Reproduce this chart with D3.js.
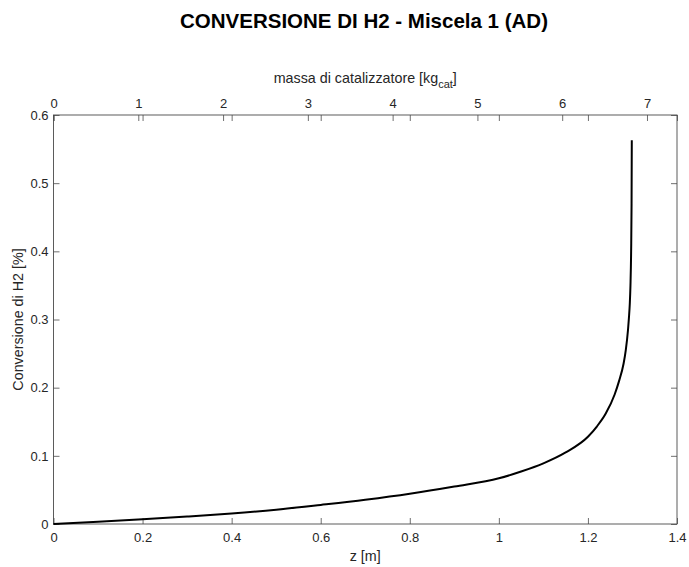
<!DOCTYPE html>
<html>
<head>
<meta charset="utf-8">
<script src="https://cdn.jsdelivr.net/npm/d3@7"></script>
<style>
  html, body { margin: 0; padding: 0; background: #fff; }
  text { font-family: "Liberation Sans", Arial, Helvetica, sans-serif; fill: #262626; }
</style>
</head>
<body>
<svg id="chart" width="689" height="567"></svg>
<script>
// Reactor length z [m] and H2 conversion along the bed
const zValues = [0, 0.1, 0.2, 0.3, 0.4, 0.5, 0.6, 0.7, 0.8, 0.9, 1.0, 1.05, 1.1, 1.15, 1.2,
                 1.22, 1.24, 1.26, 1.27, 1.28, 1.285, 1.29, 1.292, 1.294, 1.2955, 1.297, 1.298, 1.2985];
const conversion = [0, 0.0033, 0.0069, 0.011, 0.0155, 0.021, 0.028, 0.0355, 0.0443, 0.055, 0.067, 0.077, 0.089, 0.105, 0.128,
                    0.143, 0.162, 0.19, 0.21, 0.235, 0.255, 0.285, 0.302, 0.323, 0.35, 0.40, 0.47, 0.563];

// Axis limits and tick labels
const zDomain = [0, 1.4];
const zTicks = [0, 0.2, 0.4, 0.6, 0.8, 1, 1.2, 1.4];
const yDomain = [0, 0.6];
const yTicks = [0, 0.1, 0.2, 0.3, 0.4, 0.5, 0.6];
const massDomain = [0, 7.354];
const massTicks = [0, 1, 2, 3, 4, 5, 6, 7];

const title = "CONVERSIONE DI H2 - Miscela 1 (AD)";
const xLabel = "z [m]";
const yLabel = "Conversione di H2 [%]";

const plotLeft = 53.5, plotRight = 677, plotTop = 115, plotBottom = 524;
const tickLen = 6;
const axisColor = "#4a4a4a";

const svg = d3.select("#chart");

const x = d3.scaleLinear().domain(zDomain).range([plotLeft, plotRight]);
const xTop = d3.scaleLinear().domain(massDomain).range([plotLeft, plotRight]);
const y = d3.scaleLinear().domain(yDomain).range([plotBottom, plotTop]);

const fmt = d => String(+d.toFixed(2));

// Bottom axis (z), ticks pointing inward
const gB = svg.append("g").attr("transform", `translate(0,${plotBottom})`)
  .call(d3.axisBottom(x).tickValues(zTicks).tickSizeInner(-tickLen).tickSizeOuter(0).tickPadding(9).tickFormat(fmt));
// Mirrored z ticks along the top edge
const gBm = svg.append("g").attr("transform", `translate(0,${plotTop})`)
  .call(d3.axisTop(x).tickValues(zTicks).tickSizeInner(-tickLen).tickSizeOuter(0).tickFormat(""));
// Left axis
const gL = svg.append("g").attr("transform", `translate(${plotLeft},0)`)
  .call(d3.axisLeft(y).tickValues(yTicks).tickSizeInner(-tickLen).tickSizeOuter(0).tickPadding(5).tickFormat(fmt));
// Mirrored y ticks on the right edge
const gR = svg.append("g").attr("transform", `translate(${plotRight},0)`)
  .call(d3.axisRight(y).tickValues(yTicks).tickSizeInner(-tickLen).tickSizeOuter(0).tickFormat(""));
// Top axis: catalyst mass
const gT = svg.append("g").attr("transform", `translate(0,${plotTop})`)
  .call(d3.axisTop(xTop).tickValues(massTicks).tickSizeInner(-tickLen).tickSizeOuter(0).tickPadding(7.5).tickFormat(d3.format("d")));

[gB, gBm, gL, gR, gT].forEach(g => {
  g.select(".domain").remove();
  g.selectAll("line").attr("stroke", axisColor).attr("stroke-width", 0.8);
  g.selectAll("text").attr("font-size", 13).attr("fill", "#262626")
    .attr("font-family", "Liberation Sans, Arial, sans-serif");
});

// Box
svg.append("rect")
  .attr("x", plotLeft).attr("y", plotTop)
  .attr("width", plotRight - plotLeft).attr("height", plotBottom - plotTop)
  .attr("fill", "none").attr("stroke", axisColor).attr("stroke-width", 0.9);

// Conversion curve
const line = d3.line()
  .x((d, i) => x(zValues[i]))
  .y(d => y(d))
  .curve(d3.curveMonotoneX);

svg.append("path")
  .datum(conversion)
  .attr("d", line)
  .attr("fill", "none")
  .attr("stroke", "#000")
  .attr("stroke-width", 2)
  .attr("stroke-linejoin", "round");

// Title
svg.append("text")
  .attr("x", 364).attr("y", 28)
  .attr("text-anchor", "middle")
  .attr("font-size", 20.5).attr("font-weight", "bold")
  .style("fill", "#000")
  .text(title);

// Bottom label
svg.append("text")
  .attr("x", (plotLeft + plotRight) / 2).attr("y", 561)
  .attr("text-anchor", "middle")
  .attr("font-size", 14.3)
  .text(xLabel);

// Top label with subscript
const tl = svg.append("text")
  .attr("x", (plotLeft + plotRight) / 2).attr("y", 83)
  .attr("text-anchor", "middle")
  .attr("font-size", 14.3);
tl.append("tspan").text("massa di catalizzatore [kg");
tl.append("tspan").attr("dy", 5).attr("font-size", 11).text("cat");
tl.append("tspan").attr("dy", -5).text("]");

// Left label
svg.append("text")
  .attr("transform", `translate(23,${(plotTop + plotBottom) / 2}) rotate(-90)`)
  .attr("text-anchor", "middle")
  .attr("font-size", 14.3)
  .text(yLabel);
</script>
</body>
</html>
